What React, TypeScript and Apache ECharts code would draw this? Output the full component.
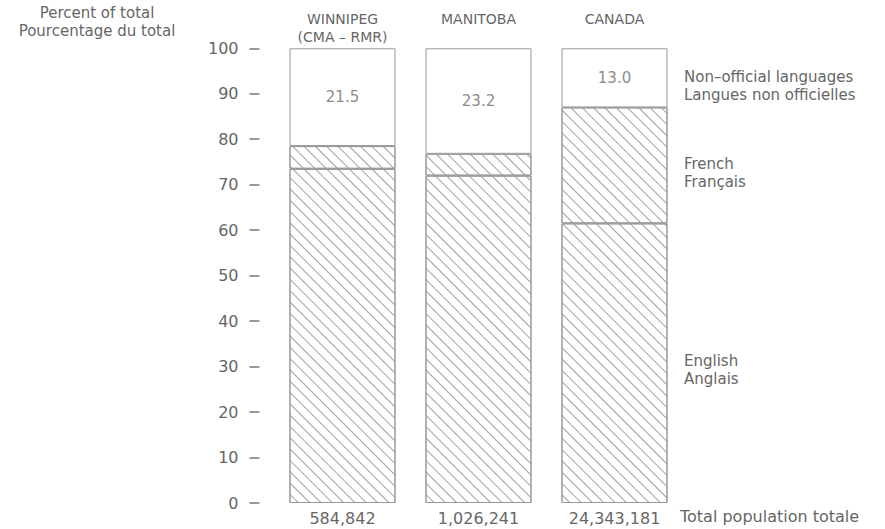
import React, { useEffect, useRef } from "react";
import * as echarts from "echarts";

const places = ["WINNIPEG\n(CMA – RMR)", "MANITOBA\n ", "CANADA\n "];
const populations = ["584,842", "1,026,241", "24,343,181"];
const english = [73.5, 72.0, 61.5];
const french = [5.0, 4.8, 25.5];
const nonOfficial = [21.5, 23.2, 13.0];
const yTicks = [0, 10, 20, 30, 40, 50, 60, 70, 80, 90, 100];

const FONT = "DejaVu Sans";
const TEXT = "#666";
const LINE = "#999";

export default function App() {
  const ref = useRef<HTMLDivElement>(null);
  useEffect(() => {
    if (!ref.current) return;
    const chart = echarts.init(ref.current, null, { renderer: "svg" });
    const hatch = {
      symbol: "rect",
      symbolSize: 1,
      dashArrayX: [1, 0],
      dashArrayY: [1, 6.3],
      rotation: Math.PI / 4,
      color: "#a0a0a0",
    };
    const segStyle = (decal: any) => {
      const s: any = { color: "#fff", borderColor: LINE, borderWidth: 1 };
      if (decal) s.decal = decal;
      return s;
    };
    const note = (text: string, x: number, y: number, align = "left") => ({
      type: "text",
      x,
      y,
      style: {
        text,
        textAlign: align,
        fill: TEXT,
        font: `15px '${FONT}'`,
        lineHeight: 18,
      },
    });
    chart.setOption({
      animation: false,
      backgroundColor: "#fff",
      textStyle: { fontFamily: FONT },
      grid: { left: 274.5, right: 202.5, top: 48.3, bottom: 26 },
      xAxis: [
        {
          type: "category",
          data: populations,
          position: "bottom",
          axisLine: { show: false },
          axisTick: { show: false },
          axisLabel: { color: TEXT, fontSize: 16, margin: 7, fontFamily: FONT },
        },
        {
          type: "category",
          data: places,
          position: "top",
          axisLine: { show: false },
          axisTick: { show: false },
          axisLabel: { color: TEXT, fontSize: 14, margin: 2, lineHeight: 18, fontFamily: FONT },
        },
      ],
      yAxis: {
        type: "value",
        min: yTicks[0],
        max: yTicks[yTicks.length - 1],
        interval: 10,
        offset: 15,
        splitLine: { show: false },
        axisLine: { show: false },
        axisTick: { show: true, length: 10, lineStyle: { color: "#777", width: 1.5 } },
        axisLabel: { color: TEXT, fontSize: 16, margin: 21, fontFamily: FONT },
      },
      series: [
        {
          name: "English",
          type: "bar",
          stack: "t",
          barWidth: 106,
          data: english,
          itemStyle: segStyle(hatch),
        },
        {
          name: "French",
          type: "bar",
          stack: "t",
          barWidth: 106,
          data: french,
          itemStyle: segStyle(hatch),
        },
        {
          name: "Non-official",
          type: "bar",
          stack: "t",
          barWidth: 106,
          data: nonOfficial,
          itemStyle: segStyle(null),
          label: {
            show: true,
            position: "inside",
            color: "#8c8c8c",
            fontSize: 15,
            fontFamily: FONT,
            formatter: (p: any) => p.value.toFixed(1),
          },
        },
      ],
      graphic: [
        note("Percent of total\nPourcentage du total", 97, 4, "center"),
        note("Non–official languages\nLangues non officielles", 684, 68),
        note("French\nFrançais", 684, 155),
        note("English\nAnglais", 684, 352),
        {
          type: "text",
          x: 680,
          y: 508,
          style: {
            text: "Total population totale",
            fill: TEXT,
            font: `16px '${FONT}'`,
          },
        },
      ],
    });
    return () => chart.dispose();
  }, []);
  return (
    <div
      ref={ref}
      style={{ position: "fixed", left: 0, top: 0, width: 885, height: 529, background: "#fff" }}
    />
  );
}
